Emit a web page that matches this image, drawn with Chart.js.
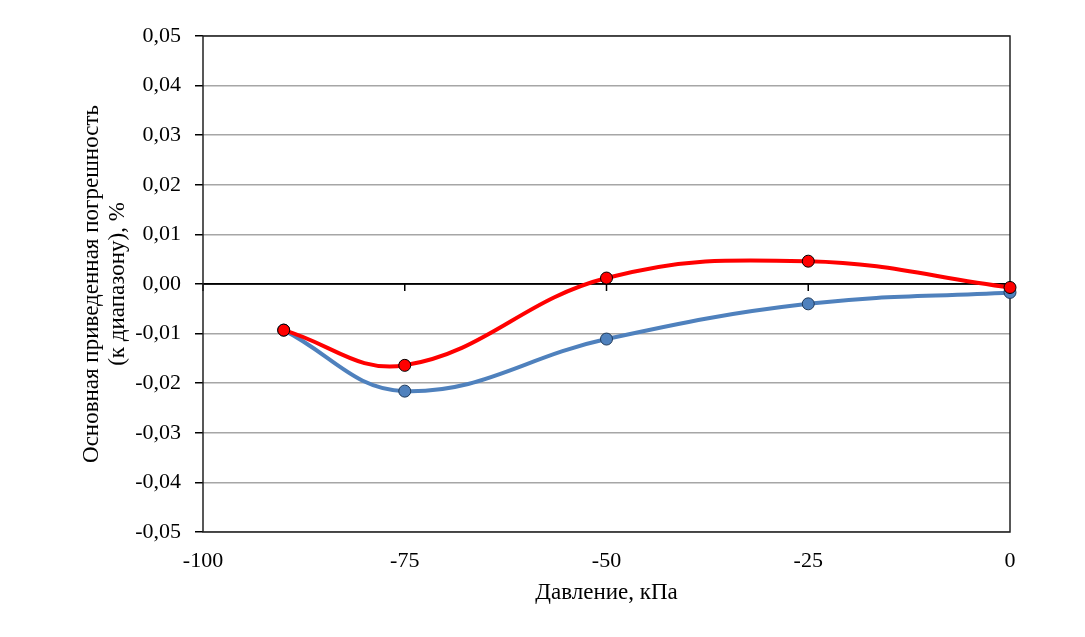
<!DOCTYPE html>
<html>
<head>
<meta charset="utf-8">
<script src="https://cdn.jsdelivr.net/npm/chart.js@4.4.1/dist/chart.umd.min.js"></script>
<style>
  html, body { margin: 0; padding: 0; background: #fff; }
  #wrap { width: 1085px; height: 637px; }
</style>
</head>
<body>
<div id="wrap"><canvas id="grafico" width="1085" height="637"></canvas></div>
<script>
// давление, кПа
const davlenie = [-90, -75, -50, -25, 0]
// погрешность, %
const sinyaya = [-0.0093, -0.0216, -0.0111, -0.0040, -0.0017]
const krasnaya = [-0.0093, -0.0164, 0.0012, 0.0046, -0.0007]
const xTiki = [-100, -75, -50, -25, 0]

const shrift = "'Liberation Serif', 'Times New Roman', serif"

const toPoints = (vals) => davlenie.map((x, i) => ({x: x, y: vals[i]}))

// рамка, нулевая линия и риски на ней
const ramka = {
  id: 'ramka',
  beforeDatasetsDraw(chart) {
    const {ctx, chartArea, scales} = chart
    ctx.save()
    const y0 = scales.y.getPixelForValue(0)
    ctx.strokeStyle = '#000'
    ctx.lineWidth = 1.5
    ctx.beginPath()
    ctx.moveTo(chartArea.left, y0)
    ctx.lineTo(chartArea.right, y0)
    for (let i = 0; i < xTiki.length; i++) {
      let px = scales.x.getPixelForValue(xTiki[i])
      ctx.moveTo(px, y0)
      ctx.lineTo(px, y0 + 7)
    }
    ctx.stroke()
    ctx.strokeStyle = '#222'
    ctx.lineWidth = 1.5
    ctx.strokeRect(chartArea.left, chartArea.top, chartArea.right - chartArea.left, chartArea.bottom - chartArea.top)
    ctx.restore()
  }
}

const ctx = document.getElementById('grafico').getContext('2d')

const grafico = new Chart(ctx, {
  type: 'scatter',
  data: {
    datasets: [
      {
        label: 'красная',
        data: toPoints(krasnaya),
        showLine: true,
        borderColor: '#ff0000',
        backgroundColor: '#ff0000',
        borderWidth: 4,
        tension: 0.4,
        pointRadius: 6,
        pointBorderColor: '#000',
        pointBorderWidth: 1,
        pointBackgroundColor: '#ff0000',
        clip: false
      },
      {
        label: 'синяя',
        data: toPoints(sinyaya),
        showLine: true,
        borderColor: '#4f81bd',
        backgroundColor: '#4f81bd',
        borderWidth: 4,
        tension: 0.4,
        pointRadius: 6,
        pointBorderColor: '#1f3a5a',
        pointBorderWidth: 1,
        pointBackgroundColor: '#4f81bd',
        clip: false
      }
    ]
  },
  options: {
    responsive: false,
    animation: false,
    layout: { padding: { left: 0, right: 75, top: 36, bottom: 0 } },
    plugins: {
      legend: { display: false },
      tooltip: { enabled: false }
    },
    scales: {
      x: {
        type: 'linear',
        min: -100,
        max: 0,
        afterBuildTicks: (s) => { s.ticks = xTiki.map(v => ({value: v})) },
        afterFit: (s) => { s.height = 105 },
        grid: { display: false, drawTicks: false },
        border: { display: false },
        ticks: {
          color: '#000',
          padding: 16,
          font: { family: shrift, size: 22 }
        },
        title: {
          display: true,
          text: 'Давление, кПа',
          color: '#000',
          font: { family: shrift, size: 23, lineHeight: 1.2 },
          padding: { bottom: 30 }
        }
      },
      y: {
        min: -0.05,
        max: 0.05,
        afterFit: (s) => { s.width = 203 },
        grid: {
          color: (c) => Math.abs(c.tick.value) < 1e-9 ? '#000' : '#a6a6a6',
          lineWidth: 1.5,
          tickLength: 8,
          tickColor: '#000'
        },
        border: { display: false },
        ticks: {
          stepSize: 0.01,
          color: '#000',
          padding: 14,
          font: { family: shrift, size: 22 },
          callback: (v) => (Math.abs(v) < 1e-9 ? 0 : v).toFixed(2).replace('.', ',')
        },
        title: {
          display: true,
          text: ['Основная приведенная погрешность', '(к диапазону), %'],
          color: '#000',
          font: { family: shrift, size: 23, lineHeight: 1.17 },
          padding: { top: 78 }
        }
      }
    }
  },
  plugins: [ramka]
})
</script>
</body>
</html>
